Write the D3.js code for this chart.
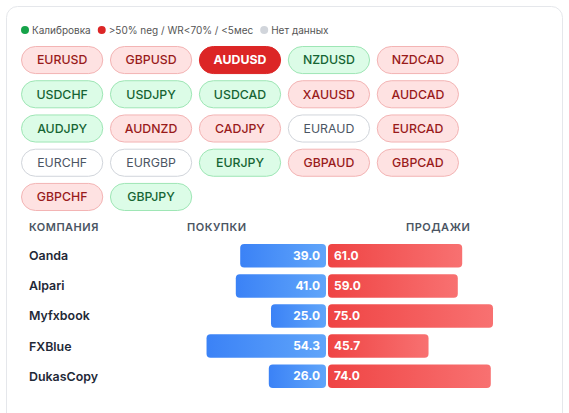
<!DOCTYPE html>
<html><head><meta charset="utf-8">
<script src="https://cdn.jsdelivr.net/npm/d3@7"></script>
<style>
html,body{margin:0;padding:0;background:#fff;}
svg{display:block;font-family:Inter,"Noto Sans",sans-serif;}
</style></head>
<body><svg id="c" width="569" height="413"></svg>
<script>
const pairs = ['EURUSD','GBPUSD','AUDUSD','NZDUSD','NZDCAD','USDCHF','USDJPY','USDCAD','XAUUSD','AUDCAD','AUDJPY','AUDNZD','CADJPY','EURAUD','EURCAD','EURCHF','EURGBP','EURJPY','GBPAUD','GBPCAD','GBPCHF','GBPJPY'];
const pairStatus = ['red','red','active','green','red','green','green','green','red','red','green','red','red','none','red','none','none','green','red','red','red','green'];
const legendLabels = ['Калибровка','>50% neg / WR<70% / <5мес','Нет данных'];
const companies = ['Oanda','Alpari','Myfxbook','FXBlue','DukasCopy'];
const buys = [39.0,41.0,25.0,54.3,26.0];
const sells = [61.0,59.0,75.0,45.7,74.0];
const headers = ['КОМПАНИЯ','ПОКУПКИ','ПРОДАЖИ'];

const svg = d3.select('#c');
const defs = svg.append('defs');
const gb = defs.append('linearGradient').attr('id','gb').attr('x1','0%').attr('x2','100%');
gb.append('stop').attr('offset','0%').attr('stop-color','#3b82f6');
gb.append('stop').attr('offset','100%').attr('stop-color','#60a5fa');
const gr = defs.append('linearGradient').attr('id','gr').attr('x1','0%').attr('x2','100%');
gr.append('stop').attr('offset','0%').attr('stop-color','#ef4444');
gr.append('stop').attr('offset','100%').attr('stop-color','#f87171');

// card
svg.append('rect').attr('x',6.5).attr('y',6.5).attr('width',556).attr('height',430).attr('rx',11)
  .attr('fill','#fff').attr('stroke','#e5e7eb');

// legend (flowed)
const legColors = ['#16a34a','#dc2626','#d1d5db'];
const lg = svg.append('g');
let lx = 25;
legendLabels.forEach((t,i)=>{
  lg.append('circle').attr('cx',lx).attr('cy',30).attr('r',4).attr('fill',legColors[i]);
  const tx = lg.append('text').attr('x',lx+7).attr('y',33.6).attr('font-size',10).attr('fill','#555').text(t);
  lx = lx + 7 + tx.node().getComputedTextLength() + 11;
});

// pills
const styles = {
  red:{bg:'#fee2e2',stroke:'#f3b4b4',fg:'#991b1b',w:500},
  green:{bg:'#dcfce7',stroke:'#9ee6b5',fg:'#166534',w:500},
  active:{bg:'#dc2626',stroke:'#dc2626',fg:'#ffffff',w:700},
  none:{bg:'#ffffff',stroke:'#d1d5db',fg:'#4b5563',w:400}
};
const cols = d3.scaleBand().domain(d3.range(5)).range([21,21+5*87.6]).paddingInner(0.075);
const rows = d3.scaleBand().domain(d3.range(5)).range([46,46+5*33]).paddingInner(0.18);
const pg = svg.append('g').selectAll('g').data(pairs).join('g')
  .attr('transform',(d,i)=>`translate(${cols(i%5)},${rows(Math.floor(i/5))})`);
pg.append('rect').attr('x',0.5).attr('y',0.5).attr('width',cols.bandwidth()-1).attr('height',rows.bandwidth()-1)
  .attr('rx',rows.bandwidth()/2)
  .attr('fill',(d,i)=>styles[pairStatus[i]].bg).attr('stroke',(d,i)=>styles[pairStatus[i]].stroke);
pg.append('text').attr('x',cols.bandwidth()/2).attr('y',rows.bandwidth()/2+4.3).attr('text-anchor','middle')
  .attr('font-size',12.3).attr('font-weight',(d,i)=>styles[pairStatus[i]].w)
  .attr('fill',(d,i)=>styles[pairStatus[i]].fg).text(d=>d);

// table headers
const hx = [29,187,406];
svg.append('g').selectAll('text').data(headers).join('text')
  .attr('x',(d,i)=>hx[i]).attr('y',230.5).attr('font-size',11).attr('font-weight',600)
  .attr('letter-spacing',0.5).attr('fill','#4b5563').text(d=>d);

// bars
const center = 327;
const x = d3.scaleLinear().domain([0,100]).range([0,220]);
const y = d3.scaleBand().domain(companies).range([241,391]).paddingInner(0.22).paddingOuter(0.1);
const rg = svg.append('g').selectAll('g').data(companies).join('g')
  .attr('transform',d=>`translate(0,${y(d)})`);
const bh = y.bandwidth();
rg.append('text').attr('x',29).attr('y',bh/2+4.4).attr('font-size',12.4).attr('font-weight',600)
  .attr('fill','#1f2937').text(d=>d);
rg.append('rect').attr('x',(d,i)=>center-1-x(buys[i])).attr('y',0).attr('width',(d,i)=>x(buys[i])).attr('height',bh)
  .attr('rx',4).attr('fill','url(#gb)');
rg.append('rect').attr('x',center+1).attr('y',0).attr('width',(d,i)=>x(sells[i])).attr('height',bh)
  .attr('rx',4).attr('fill','url(#gr)');
rg.append('text').attr('x',center-7).attr('y',bh/2+4.2).attr('text-anchor','end').attr('font-size',12)
  .attr('font-weight',700).attr('fill','#fff').text((d,i)=>buys[i].toFixed(1));
rg.append('text').attr('x',center+7).attr('y',bh/2+4.2).attr('font-size',12)
  .attr('font-weight',700).attr('fill','#fff').text((d,i)=>sells[i].toFixed(1));
</script></body></html>
